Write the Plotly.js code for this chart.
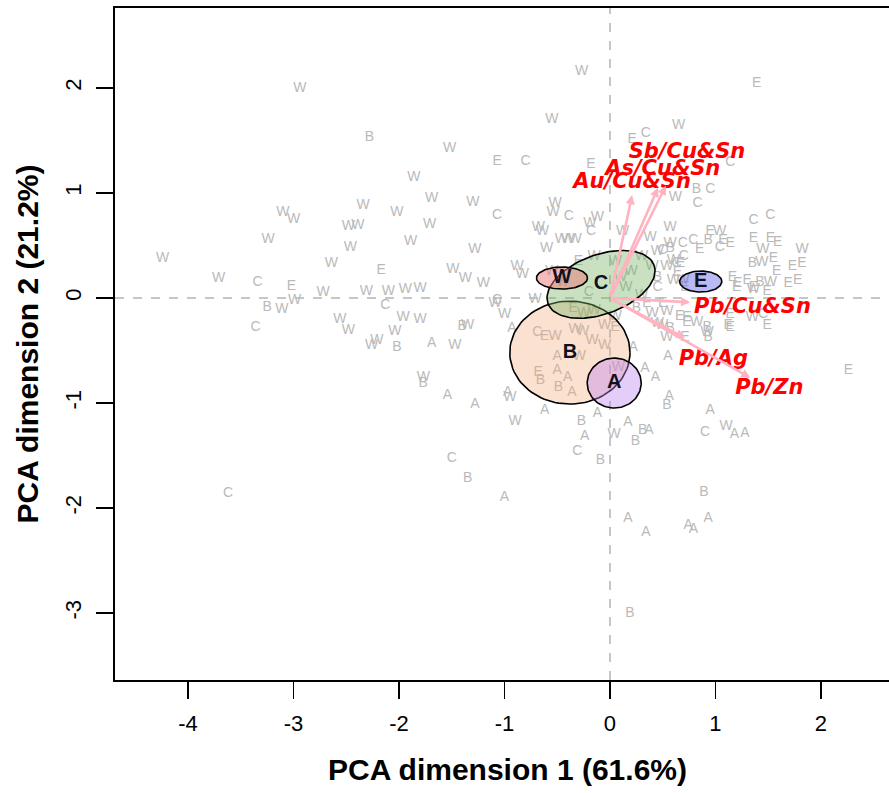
<!DOCTYPE html>
<html><head><meta charset="utf-8">
<script src="https://cdn.plot.ly/plotly-3.0.1.min.js"></script>
<style>html,body{margin:0;padding:0;overflow:hidden;background:#fff}</style>
</head><body><div id="chart" style="width:900px;height:793px"></div>
<script>
// ---- individual PCA scores (label = group) ----
const ptLab = [
'W','B','W','W','W','W','W','W','W','W','W','W','C','E','W','B','W','C','W','W','W','W','W','C',
'W','W','W','E','C','E','W','W','W','W','C','W','W','C','W','W','C','W','W','W','W','W','W','W','W','W','W',
'E','W','W','W','W','W','W','W','W','C','W','C','W','W','W','W','B','W','A','W','W','B','A','W','W','B','A','A','A','W','A','W','B','A','C','E','W','W','W','W','A','W','E','B','A','A','B','A','W','W','A','A','W','W','E','W',
'B','B','A','C','B','C','B','A','C','A','A','B','A','A','A','A','A','B',
'E','A','A','A','A','B','A','W','A','W','W','B','W','E','E','W','E','B','B','E','C','W','E','E','E','E','B','W','E','E','E','W','E','B','W','E','E','E','E',
'C','C','E','E','E','W','B','W','E','C','E','C','W','W','E','W','C','E','C','B','C','W','C','W','C','E','E','W','C','B','W','E','C','E','W','B','W','C','W','E','E','W','W','E','E','W','E','E',
'W','W','W','C','W','W','E','W','W','W','W','W','W','C','E','W','B','W','E','C'
];
const ptX = [
-2.94,-2.28,-3.10,-3.00,-2.34,-2.48,-2.39,-3.24,-2.46,-2.64,-4.24,-3.71,-3.34,-3.02,-2.99,-3.25,-3.11,-3.36,-2.72,-2.31,-2.56,-2.48,-2.26,-3.62,
-0.27,-0.55,-1.52,-1.07,-0.80,-0.18,-1.86,-1.69,-1.30,-2.02,-1.07,-0.52,-0.54,-0.39,-0.12,-0.19,-0.18,-1.71,-0.68,-0.64,-0.46,-0.40,-0.33,-1.89,0.12,-1.28,-0.60,
-2.17,-1.49,-1.37,-1.20,-0.88,-0.83,-2.10,-1.94,-1.80,-2.13,-1.09,-1.07,-1.00,-0.71,-1.96,-1.80,-1.40,-1.35,-0.93,-2.04,-2.21,-2.02,-1.69,-1.47,-1.77,-1.77,-1.54,-1.28,-0.97,-0.95,-0.62,-0.90,-0.27,-0.24,-0.69,-0.62,-0.52,-0.33,-0.26,-0.17,-0.50,-0.29,-0.68,-0.66,-0.50,-0.40,-0.49,-0.36,-0.05,0.08,-0.12,0.17,0.04,0.05,0.05,-0.05,
0.24,0.31,0.37,-0.31,-0.09,-1.50,-1.35,-1.00,0.90,1.18,1.28,0.89,0.17,0.34,0.74,0.79,0.93,0.19,
2.26,0.55,0.33,0.43,0.56,0.54,0.95,1.10,0.22,0.54,0.49,0.57,0.54,0.71,0.73,0.82,1.12,0.92,0.93,1.49,1.45,1.35,1.14,1.16,1.21,1.30,1.42,1.52,1.69,1.78,1.82,1.82,1.73,1.35,1.44,1.55,1.58,1.36,1.49,
1.36,1.52,1.36,1.52,1.59,1.45,0.93,1.04,1.14,1.04,0.85,0.79,0.57,0.38,1.39,0.65,0.34,0.21,1.14,0.82,0.95,0.62,0.83,0.57,0.69,0.95,1.07,0.45,0.50,0.57,0.60,0.67,0.70,0.64,0.60,0.45,0.54,0.63,0.69,0.71,1.20,1.36,0.45,0.66,0.73,0.92,1.14,
-0.30,-0.15,0.05,0.10,-0.20,0.15,0.20,-0.35,-0.25,-0.15,-0.55,-0.45,0.30,0.40,0.45,0.35,0.40,0.25,0.30,0.50
];
const ptY = [
2.00,1.53,0.81,0.75,0.88,0.68,0.69,0.56,0.48,0.33,0.38,0.19,0.15,0.11,-0.02,-0.09,-0.11,-0.28,0.05,0.06,-0.20,-0.31,-0.45,-1.86,
2.16,1.70,1.42,1.30,1.30,1.27,1.15,0.95,0.91,0.81,0.79,0.90,0.81,0.78,0.77,0.71,0.63,0.70,0.67,0.63,0.56,0.56,0.56,0.54,0.63,0.46,0.47,
0.26,0.27,0.19,0.14,0.30,0.22,0.06,0.08,0.09,-0.07,-0.05,-0.02,-0.16,-0.01,-0.19,-0.20,-0.27,-0.26,-0.29,-0.32,-0.40,-0.47,-0.43,-0.45,-0.76,-0.81,-0.93,-1.01,-0.90,-0.95,-1.07,-1.18,-1.18,-1.32,-0.33,-0.37,-0.37,-0.30,-0.32,-0.40,-0.56,-0.56,-0.71,-0.79,-0.69,-0.76,-0.85,-0.90,-0.45,-0.66,-1.10,-1.19,-1.30,-0.18,-0.28,-0.26,
-1.37,-1.26,-1.26,-1.46,-1.55,-1.53,-1.72,-1.90,-1.28,-1.30,-1.29,-1.85,-2.10,-2.23,-2.17,-2.20,-2.10,-3.00,
-0.69,-0.56,-0.67,-0.76,-0.94,-1.02,-1.07,-1.22,-0.47,-0.13,-0.26,-0.29,-0.38,-0.38,-0.19,-0.23,-0.26,-0.28,-0.38,-0.26,-0.16,-0.19,-0.16,0.20,0.14,0.17,0.15,0.15,0.14,0.17,0.33,0.46,0.30,0.33,0.34,0.38,0.25,0.10,0.06,
0.74,0.79,0.57,0.57,0.53,0.46,0.55,0.63,0.52,0.48,0.46,0.55,0.67,0.58,2.04,1.64,1.57,1.51,1.29,1.03,1.03,0.96,0.90,0.52,0.52,0.63,0.55,0.44,0.45,0.47,0.36,0.33,0.40,0.24,0.17,0.20,0.30,0.33,0.17,0.10,0.10,0.08,-0.24,-0.18,-0.23,-0.33,-0.28,
0.35,0.40,0.35,0.20,0.05,0.10,0.25,-0.10,-0.15,-0.12,0.25,0.15,0.40,0.30,0.10,-0.05,-0.15,-0.10,0.02,-0.05
];

// ---- group confidence ellipses ----
const grpName  = ['B','A','C','E','W'];
const grpCx    = [-0.38, 0.04, -0.085, 0.86, -0.455];
const grpCy    = [-0.52, -0.81, 0.13, 0.157, 0.19];
const grpA     = [0.57, 0.256, 0.535, 0.20, 0.242];
const grpB     = [0.49, 0.238, 0.283, 0.10, 0.105];
const grpAngle = [0, 0, 20, 0, 0];
const grpFill  = ['rgba(240,170,120,0.35)','rgba(190,130,240,0.40)','rgba(120,180,100,0.40)','rgba(100,100,230,0.45)','rgba(235,120,120,0.50)'];

// ---- variable loadings (arrows) ----
const varName = ['Sb/Cu&Sn','As/Cu&Sn','Au/Cu&Sn','Pb/Cu&Sn','Pb/Ag','Pb/Zn'];
const varX    = [0.53, 0.455, 0.21, 0.76, 0.71, 1.33];
const varY    = [1.07, 1.05, 0.98, -0.04, -0.38, -0.76];
const varLabX = [0.73, 0.50, 0.21, 1.35, 0.98, 1.51];
const varLabY = [1.38, 1.22, 1.10, -0.09, -0.59, -0.86];

const xTicks = [-4,-3,-2,-1,0,1,2];
const yTicks = [-3,-2,-1,0,1,2];

const traces = [];
traces.push({type:'scatter', mode:'text', x:ptX, y:ptY, text:ptLab, hoverinfo:'skip',
  textfont:{family:'Liberation Sans, Arial, sans-serif', size:14, color:'#bababa'}, showlegend:false});

for (let g=0; g<grpName.length; g++){
  const ex=[], ey=[], th=grpAngle[g]*Math.PI/180;
  for (let k=0;k<=100;k++){
    const t=2*Math.PI*k/100;
    const u=grpA[g]*Math.cos(t), v=grpB[g]*Math.sin(t);
    ex.push(grpCx[g]+u*Math.cos(th)-v*Math.sin(th));
    ey.push(grpCy[g]+u*Math.sin(th)+v*Math.cos(th));
  }
  traces.push({type:'scatter', mode:'lines', x:ex, y:ey, fill:'toself', fillcolor:grpFill[g],
    line:{color:'#000', width:1.6}, hoverinfo:'skip', showlegend:false});
}

traces.push({type:'scatter', mode:'text', x:varLabX, y:varLabY, text:varName, hoverinfo:'skip', showlegend:false,
  textfont:{family:'DejaVu Sans, sans-serif', size:21, color:'#ff0000', weight:'bold', style:'italic'}});
traces.push({type:'scatter', mode:'text', x:grpCx, y:grpCy, text:grpName, hoverinfo:'skip', showlegend:false,
  textfont:{family:'Liberation Sans, Arial, sans-serif', size:20, color:'#101020', weight:'bold'}});

const annotations = varName.map((n,i)=>({x:varX[i], y:varY[i], ax:0, ay:0, xref:'x', yref:'y', axref:'x', ayref:'y',
  text:'', showarrow:true, arrowcolor:'#ffb3c0', arrowwidth:2.6, arrowhead:2, arrowsize:0.7, standoff:0}));

const layout = {
  width:900, height:793,
  margin:{l:115, r:0, t:8, b:113},
  paper_bgcolor:'#fff', plot_bgcolor:'#fff',
  showlegend:false,
  font:{family:'Liberation Sans, Arial, sans-serif', color:'#000'},
  xaxis:{range:[-4.692, 2.749], tickvals:xTicks, ticktext:xTicks.map(String), showgrid:false, zeroline:false,
    showline:true, mirror:true, linecolor:'#000', linewidth:2, ticks:'outside', ticklen:17, tickwidth:1.5, tickcolor:'#000',
    tickfont:{size:22}, ticklabelstandoff:6,
    title:{text:'PCA dimension 1 (61.6%)', font:{size:30, weight:'bold'}, standoff:24}},
  yaxis:{range:[-3.638, 2.762], tickvals:yTicks, ticktext:yTicks.map(String), showgrid:false, zeroline:false,
    showline:true, mirror:true, linecolor:'#000', linewidth:2, ticks:'outside', ticklen:17, tickwidth:1.5, tickcolor:'#000',
    tickfont:{size:22}, tickangle:-90, ticklabelstandoff:6,
    title:{text:'PCA dimension 2 (21.2%)', font:{size:30, weight:'bold'}, standoff:14}},
  shapes:[
    {type:'line', xref:'x', yref:'paper', x0:0, x1:0, y0:0, y1:1, line:{color:'#b4b4b4', width:1.5, dash:'dash'}, layer:'below'},
    {type:'line', xref:'paper', yref:'y', x0:0, x1:1, y0:0, y1:0, line:{color:'#b4b4b4', width:1.5, dash:'dash'}, layer:'below'}
  ],
  annotations: annotations
};
Plotly.newPlot('chart', traces, layout, {displayModeBar:false, staticPlot:true});
</script></body></html>
